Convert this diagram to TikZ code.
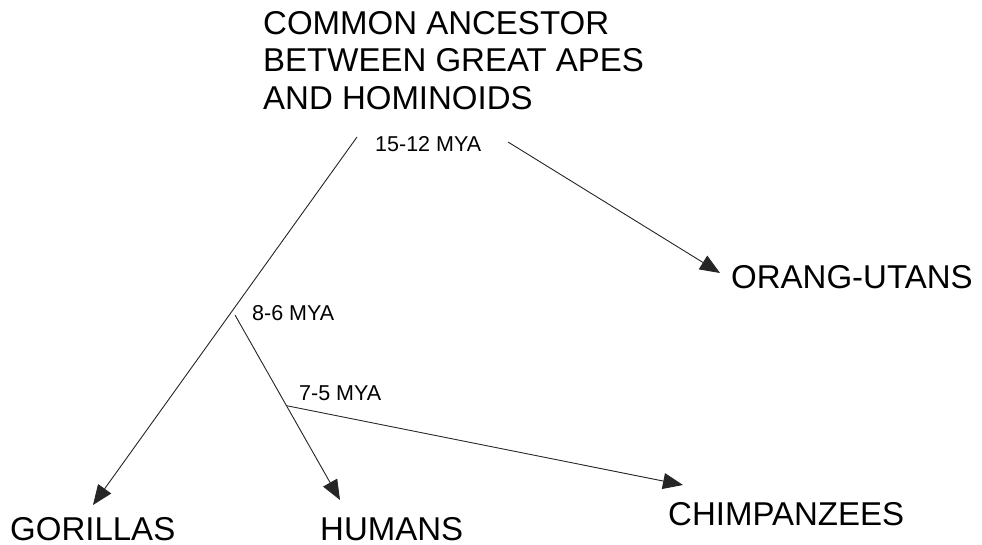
\documentclass[tikz,border=0pt]{standalone}
\usepackage{fontspec}
\setmainfont{Liberation Sans}
\usetikzlibrary{arrows.meta,calc}

\begin{document}
\begin{tikzpicture}[x=1pt,y=-1pt,
  % labels: large caps for the taxa and the ancestor, small for split ages
  taxon/.style={inner sep=0pt, anchor=base west, font=\fontsize{33}{37.5}\selectfont},
  ancbox/.style={inner sep=0pt, anchor=north west, align=left,
                 font=\fontsize{33}{37.5}\selectfont},
  age/.style={inner sep=0pt, anchor=base west, font=\fontsize{21.5}{26}\selectfont},
  % lineages
  lin/.style={draw=black!85, line width=0.9pt},
  desc/.style={lin, -{Triangle[length=20pt, width=16pt]}},
  ]
  \useasboundingbox[fill=white] (0,0) rectangle (982,545);
  % ---- labels (pixel grid, y down) ---------------------------------------
  \node[ancbox] (ancestor) at (263,11) {COMMON ANCESTOR\\BETWEEN GREAT APES\\AND HOMINOIDS};
  \node[age]   (age1512) at (375,152) {15-12 MYA};
  \node[age]   (age86)   at (252,320) {8-6 MYA};
  \node[age]   (age75)   at (299,400) {7-5 MYA};
  \node[taxon] (orang)   at (731,288) {ORANG-UTANS};
  \node[taxon] (gorilla) at (10,540)  {GORILLAS};
  \node[taxon] (human)   at (320,540) {HUMANS};
  \node[taxon] (chimp)   at (668,525) {CHIMPANZEES};
  % ---- split points and arrow tips ----------------------------------------
  \coordinate (rootL)    at (357,137);
  \coordinate (rootR)    at (508,142);
  \coordinate (split86)  at (235,315);
  \coordinate (gorTip)   at (93,505);
  \coordinate (humTip)   at (340,500);
  \coordinate (split75)  at ($(split86)!0.49!(humTip)$);
  \coordinate (chimpTip) at (683,485);
  \coordinate (orangTip) at (720,273);
  % ---- lineages ------------------------------------------------------------
  \draw[desc] (rootL) -- (gorTip);
  \draw[desc] (rootR) -- (orangTip);
  \draw[desc] (split86) -- (humTip);
  \draw[desc] (split75) -- (chimpTip);
\end{tikzpicture}
\end{document}
